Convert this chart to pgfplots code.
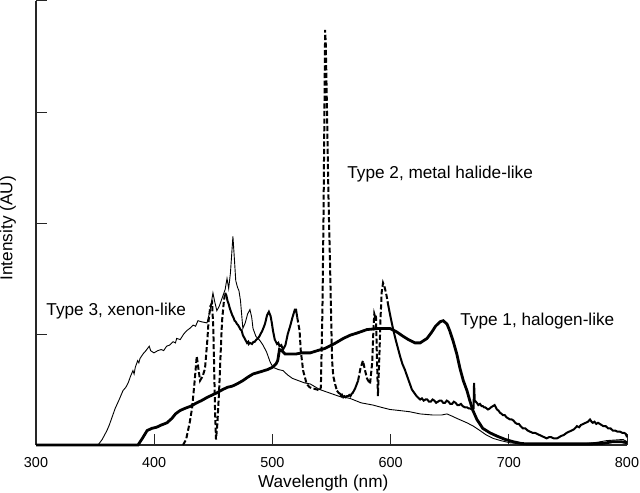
\documentclass[border=0pt]{standalone}
\usepackage{fontspec}
\setmainfont{Liberation Sans}
\usepackage{pgfplots}
\pgfplotsset{compat=1.18}
\begin{document}
\begin{tikzpicture}
\begin{axis}[
  scale only axis, width=295.5pt, height=222pt,
  xmin=300, xmax=800, ymin=0, ymax=4,
  axis x line*=bottom, axis y line*=left,
  axis line style={-, line width=0.6pt, black!85},
  xtick={300,400,500,600,700,800},
  ytick={1,2,3,4}, yticklabels={},
  tick align=inside, major tick length=5.5pt,
  tick style={line width=0.5pt, black!85},
  /pgf/number format/assume math mode=true,
  xticklabel style={font=\fontsize{7.2}{8}\selectfont, yshift=-2.5pt},
  xlabel={Wavelength (nm)}, ylabel={Intensity (AU)},
  label style={font=\fontsize{8.6}{10}\selectfont},
  xlabel style={at={(axis description cs:0.486,-0.0867)}, anchor=center},
  ylabel style={at={(axis description cs:-0.0474,0.488)}, anchor=center},
  clip=false,
]
% Type 3, xenon-like (thin)
\addplot[black, line width=0.45pt] coordinates {
(300,0) (352.5,0) (356,0.05) (360,0.13) (362,0.18) (364,0.24) (367,0.33) (370,0.40) (373.6,0.49) (376,0.52) (378,0.56) (380,0.62) (382,0.67) (383,0.64) (384,0.70) (386,0.76) (387,0.74) (388,0.78) (390.5,0.82) (393,0.85) (395.8,0.89) (397,0.85) (399.8,0.83) (403,0.85) (406,0.86) (408,0.85) (410.5,0.89) (413,0.90) (416,0.93) (418,0.92) (419,0.96) (422,0.95) (425,1.00) (427.5,1.03) (430,1.05) (433,1.08) (435,1.07) (437,1.12) (440,1.11) (444.7,1.10) (447,1.20) (449.7,1.37) (451,1.30) (453,1.21) (455,1.25) (458,1.34) (460,1.40) (461.6,1.50) (463,1.41) (464.5,1.55) (466.6,1.88) (468,1.65) (469,1.48) (470.5,1.42) (471.7,1.39) (473,1.30) (475,1.05) (477,1.10) (479,1.18) (481,1.22) (482.5,1.15) (483.6,1.05) (486,0.98) (489.5,0.94) (492,0.90) (495,0.84) (498,0.75) (500.5,0.70) (505,0.68) (509,0.67) (513,0.63) (517,0.60) (522,0.58) (527,0.56) (532,0.55) (540,0.50) (548,0.47) (556,0.44) (565.6,0.42) (575,0.38) (585,0.36) (592,0.34) (599.5,0.32) (608,0.31) (616,0.30) (625,0.28) (636,0.27) (643,0.27) (647.7,0.28) (652,0.26) (656,0.24) (664.6,0.20) (670,0.17) (675.6,0.13) (681,0.09) (686.6,0.06) (693,0.04) (701,0.02) (710,0.01) (720,0.01) (740,0.01) (762.8,0.01) (775,0.025) (783,0.04) (790,0.045) (796.6,0.05) (800,0.03)
};
% Type 1, halogen-like (thick)
\addplot[black, line width=1.4pt] coordinates {
(300,0) (386.3,0) (390,0.06) (394,0.13) (398,0.15) (402,0.16) (406,0.18) (410.8,0.20) (415,0.24) (418,0.28) (421.8,0.31) (426,0.33) (431,0.35) (436,0.38) (440,0.40) (445,0.43) (449,0.45) (453,0.47) (458,0.50) (462,0.52) (466,0.53) (470,0.55) (475,0.58) (479,0.61) (483.6,0.64) (490,0.66) (496,0.68) (500,0.70) (503,0.73) (504.5,0.76) (506,0.86) (508,0.85) (510.7,0.82) (515,0.82) (520,0.82) (525,0.83) (532,0.83) (538,0.85) (544.5,0.87) (552,0.91) (560,0.96) (566,0.99) (572,1.01) (580,1.04) (590,1.05) (599.5,1.05) (605,1.02) (610.5,0.98) (615,0.95) (620.6,0.92) (625,0.92) (630.8,0.96) (635,1.02) (638,1.07) (641.8,1.11) (644.5,1.12) (647.7,1.09) (650,1.03) (652.8,0.94) (656,0.82) (658.7,0.69) (661.5,0.58) (664.6,0.49) (667,0.40) (669.7,0.31) (673,0.23) (678,0.15) (684,0.11) (690,0.08) (697,0.05) (703.6,0.03) (710,0.015) (715,0.01) (740,0.01) (770,0.01) (780,0.015) (788,0.03) (795,0.03) (800,0.02)
};
% Type 2, metal halide-like
\addplot[black, line width=1pt, dash pattern=on 2.6pt off 1.2pt] coordinates {
(424.4,0) (427,0.05) (430,0.20) (432,0.33) (434,0.55) (436,0.80) (437,0.72) (438.8,0.58) (441,0.62) (443,0.69) (445,0.95) (446,1.12) (447.5,1.25) (449,1.28) (450,1.05) (450.6,0.76) (451.5,0.30) (452.3,0.05) (453.5,0.20) (455,0.51) (456.3,0.85) (457.4,1.12) (459,1.30) (460,1.37)
};
\addplot[black, line width=1pt] coordinates {
(460,1.37) (461,1.35) (462,1.30) (463,1.27) (464,1.23) (465,1.20) (466,1.17) (467,1.15) (468,1.12) (469,1.11) (470,1.09) (471,1.08) (472,1.06) (473,1.04) (474,1.03) (475,0.99) (476,0.97) (477,0.95) (478.5,0.92) (479.5,0.93) (480,0.91) (481,0.92) (482.7,0.91) (484,0.93) (485,0.93) (486.5,0.95) (487.8,0.96) (489,0.98) (490,1.00) (491.5,1.03) (493.7,1.09) (495.5,1.17) (497,1.20) (498.5,1.16) (499.5,1.10) (500.5,1.03) (502,0.95) (503.9,0.91) (505,0.92) (506,0.89) (507.5,0.90) (509,0.86) (510,0.88) (511,0.90) (513,1.00) (515,1.07) (517,1.15) (519,1.22) (520,1.22) (521,1.15)
};
\addplot[black, line width=1pt, dash pattern=on 2.6pt off 1.2pt] coordinates {
(521,1.15) (523,1.03) (524,0.85) (526,0.67) (529,0.55) (531.5,0.52) (534,0.51) (537.7,0.50) (540,0.49) (541,0.52) (542.3,1.20) (543.2,2.00) (544,3.00) (544.6,3.74) (545.2,3.60) (546.2,3.00) (547.5,2.20) (548.7,1.66) (549.8,1.10) (550.5,0.76) (551.5,0.62) (553,0.55) (554.6,0.49)
};
\addplot[black, line width=1pt] coordinates {
(554.6,0.49) (556,0.47) (557.5,0.46) (558.3,0.44) (559,0.45) (560,0.43) (561,0.44) (562,0.43) (563,0.44) (564,0.44) (565,0.45) (566,0.44) (567,0.46) (568,0.47) (570,0.51) (572.5,0.58)
};
\addplot[black, line width=1pt, dash pattern=on 2.6pt off 1.2pt] coordinates {
(572.5,0.58) (574.5,0.69) (576.6,0.76) (578,0.69) (580,0.60) (582.6,0.55) (584.5,0.75) (585.5,1.05) (586.2,1.18) (587,1.15) (587.6,1.17) (588.4,0.80) (589.3,0.44) (590.5,0.80) (591.5,1.15) (592.5,1.38) (593.6,1.46) (595,1.42) (596.5,1.35) (597.8,1.27)
};
\addplot[black, line width=1pt] coordinates {
(597.8,1.27) (600,1.15) (602,1.05) (604,0.96) (606,0.88) (608,0.80) (610,0.73) (612,0.68) (614,0.62) (616,0.56) (618,0.50) (620,0.47) (622,0.44) (625,0.41) (626.5,0.42) (628,0.40) (629.5,0.41) (631,0.41) (632.5,0.39) (634,0.39) (635.5,0.41) (637,0.40) (638.5,0.38) (640,0.39) (641.5,0.40) (643,0.40) (644.5,0.38) (646,0.38) (647.5,0.40) (649,0.39) (650.5,0.37) (652,0.37) (653.5,0.39) (655,0.38) (656.5,0.36) (658,0.36) (659.5,0.37) (661,0.35) (662.8,0.34) (664.6,0.34) (666,0.33) (667,0.33) (669,0.32) (670.2,0.33) (670.6,0.56) (671.2,0.40) (673,0.38) (674.2,0.36) (675.6,0.37) (677,0.35) (678,0.35) (679,0.34) (680,0.34) (681.2,0.33) (682.4,0.32) (684,0.33) (685,0.34) (686.5,0.35) (688,0.36) (689,0.34) (690,0.32) (691.3,0.31) (692.6,0.29) (694,0.28) (695,0.27) (696.5,0.27) (698,0.25) (699.5,0.24) (701,0.23) (702.5,0.23) (704,0.22) (705.5,0.20) (707,0.19) (708.5,0.19) (710,0.17) (711,0.16) (712,0.15) (714,0.15) (716,0.13) (718,0.12) (720,0.11) (722,0.11) (724,0.10) (726,0.09) (728,0.08) (730,0.07) (732,0.06) (734,0.07) (736,0.07) (738,0.06) (740.8,0.06) (742.5,0.07) (744,0.08) (746.5,0.09) (749,0.11) (751,0.12) (753,0.13) (755,0.14) (757.7,0.17) (759.5,0.16) (761,0.18) (763,0.19) (765,0.20) (767,0.21) (768.7,0.23) (770,0.21) (771,0.20) (772.5,0.21) (774,0.19) (775.5,0.20) (777,0.19) (778.5,0.18) (780,0.17) (782,0.17) (784,0.15) (786,0.15) (788,0.13) (790,0.13) (792,0.12) (794,0.12) (796,0.11) (797.5,0.11) (799,0.10) (800,0.07)
};
\node[anchor=west, font=\fontsize{8.6}{10}\selectfont, inner sep=0pt] at (axis cs:308.5,1.21) {Type 3, xenon-like};
\node[anchor=west, font=\fontsize{8.6}{10}\selectfont, inner sep=0pt] at (axis cs:563.1,2.44) {Type 2, metal halide-like};
\node[anchor=west, font=\fontsize{8.6}{10}\selectfont, inner sep=0pt] at (axis cs:658.7,1.117) {Type 1, halogen-like};
\end{axis}
\pgfresetboundingbox
\useasboundingbox (current axis.south west) ++(-18pt,-23.5pt) rectangle ([xshift=6.5pt,yshift=0.5pt]current axis.north east);
\end{tikzpicture}
\end{document}
